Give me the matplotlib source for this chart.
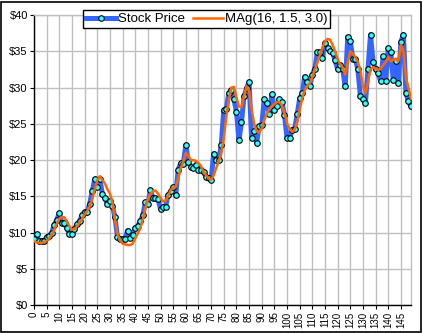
import matplotlib
matplotlib.use("Agg")
import matplotlib.pyplot as plt
from matplotlib.patches import Rectangle

# --- data ---
stock_price = [
    9.2, 9.8, 8.8, 8.9, 8.9, 9.4, 9.6, 10.0, 11.1, 11.8,
    12.7, 11.4, 11.3, 10.6, 9.8, 9.8, 10.5, 11.2, 11.6, 12.4,
    12.9, 12.9, 14.0, 15.7, 17.4, 16.3, 17.4, 15.4, 14.8, 14.0,
    14.4, 13.7, 12.1, 9.4, 9.1, 9.2, 9.2, 10.3, 9.3, 9.7,
    10.7, 10.9, 11.6, 12.4, 14.2, 13.9, 15.9, 14.8, 14.8, 14.6,
    13.3, 13.6, 13.6, 15.2, 15.7, 16.3, 15.2, 18.7, 19.6, 19.5,
    22.1, 19.8, 19.1, 18.9, 19.4, 18.7, 18.6, 18.4, 17.7, 17.5,
    17.3, 20.9, 20.0, 20.0, 22.1, 26.9, 27.1, 29.2, 29.7, 28.4,
    26.7, 22.8, 25.2, 28.8, 29.9, 30.8, 23.1, 24.0, 22.4, 24.7,
    24.8, 28.4, 27.9, 26.4, 29.1, 26.9, 27.5, 28.4, 28.0, 26.2,
    23.0, 23.0, 24.2, 24.3, 26.3, 28.5, 29.2, 31.5, 30.8, 30.2,
    31.8, 32.6, 34.9, 34.9, 34.1, 36.2, 35.4, 35.0, 34.8, 33.8,
    32.5, 33.1, 32.5, 30.2, 37.0, 36.4, 34.0, 33.9, 32.5, 28.8,
    28.4, 27.9, 32.5, 37.3, 33.5, 32.5, 32.0, 30.9, 34.3, 30.9,
    35.4, 34.9, 31.0, 33.7, 30.6, 36.3, 37.3, 29.2, 28.1, 27.4,
]

mag_values = [
    8.8, 8.7, 8.6, 8.6, 8.7, 8.9, 9.2, 9.7, 10.4, 11.2,
    11.9, 12.2, 12.1, 11.6, 10.9, 10.4, 10.5, 10.9, 11.4, 11.9,
    12.5, 13.0, 13.6, 14.6, 16.0, 17.2, 17.8, 17.3, 16.8, 16.0,
    15.4, 14.2, 11.8, 9.8, 9.0, 8.5, 8.4, 8.3, 8.3, 8.5,
    9.2, 9.9, 10.6, 11.8, 13.4, 14.6, 15.3, 15.7, 15.8, 15.4,
    14.8, 14.3, 14.4, 15.0, 15.9, 16.2, 16.3, 17.5, 18.9, 19.8,
    21.0, 20.6, 20.0, 20.0, 19.9, 19.6, 19.2, 18.4, 17.9, 17.5,
    17.3, 17.9, 18.9, 19.8, 21.0, 23.0, 26.0, 28.3, 30.0, 30.1,
    28.6, 27.4, 27.3, 28.8, 30.2, 29.5, 27.0, 25.0, 24.0, 23.8,
    24.4, 25.5, 26.4, 27.0, 27.4, 27.7, 28.0, 28.0, 27.5, 26.5,
    25.1, 24.3, 23.9, 24.2, 25.2, 27.0, 28.5, 29.6, 30.2, 30.6,
    31.5, 32.5, 33.5, 34.5, 35.5, 36.4, 36.7, 36.6, 35.9, 35.0,
    33.9, 33.2, 32.8, 31.8, 33.5, 35.0, 34.6, 34.2, 33.5, 32.4,
    30.2, 29.2, 30.8, 32.5, 32.8, 32.6, 32.4, 32.6, 33.1, 33.5,
    34.2, 33.6, 33.8, 34.0, 33.6, 35.9, 35.0, 31.3, 30.0, 28.5,
]

periods = list(range(len(stock_price)))
x_ticks = list(range(0, 150, 5))
y_ticks = [0, 5, 10, 15, 20, 25, 30, 35, 40]
y_tick_labels = ["$0", "$5", "$10", "$15", "$20", "$25", "$30", "$35", "$40"]
series_names = ["Stock Price", "MAg(16, 1.5, 3.0)"]

plt.rcParams['font.family'] = ['Liberation Sans', 'DejaVu Sans']

W, H = 423, 333
fig = plt.figure(figsize=(W / 100, H / 100), dpi=100)
fig.patch.set_facecolor("white")

left, right, top, bottom = 34, 411, 15, 305.3
ax = fig.add_axes([left / W, 1 - bottom / H, (right - left) / W, (bottom - top) / H])

ax.plot(periods, stock_price, color="#3366FF", linewidth=3.6, zorder=3,
        marker="o", markersize=4.0, markerfacecolor="#33FFFF",
        markeredgecolor="#000000", markeredgewidth=0.8, label=series_names[0])
ax.plot(periods, mag_values, color="#FF6600", linewidth=1.8, zorder=4,
        label=series_names[1])

ax.set_xlim(0, 149)
ax.set_ylim(0, 40)
ax.set_xticks(x_ticks)
ax.set_xticklabels([str(v) for v in x_ticks], rotation=90, fontsize=7)
ax.set_yticks(y_ticks)
ax.set_yticklabels(y_tick_labels, fontsize=8)
ax.tick_params(axis="both", direction="out", length=3, width=0.8, color="black", pad=1.5)

ax.grid(True, color="#C0C0C0", linewidth=1.0, zorder=0)
ax.set_axisbelow(True)
for s in ("top", "right"):
    ax.spines[s].set_color("#C0C0C0")
    ax.spines[s].set_linewidth(1.0)
for s in ("left", "bottom"):
    ax.spines[s].set_color("black")
    ax.spines[s].set_linewidth(1.0)

leg = fig.legend(loc="lower left",
                 bbox_to_anchor=(83 / W, 1 - 28 / H, (330 - 83) / W, 24 / H),
                 mode="expand", ncol=2,
                 fontsize=9.5, frameon=True, fancybox=False, edgecolor="black",
                 framealpha=1.0, borderpad=0.2, handlelength=2.3, handletextpad=0.15,
                 columnspacing=0.6, borderaxespad=0.0)
leg.get_frame().set_linewidth(1.0)
leg.set_zorder(10)

fig.patches.append(Rectangle((1 / W, 1 / H), (W - 3) / W, (H - 3) / H, transform=fig.transFigure,
                             fill=False, edgecolor="black", linewidth=1.2))

fig.savefig("out.png", dpi=100, facecolor="white")
